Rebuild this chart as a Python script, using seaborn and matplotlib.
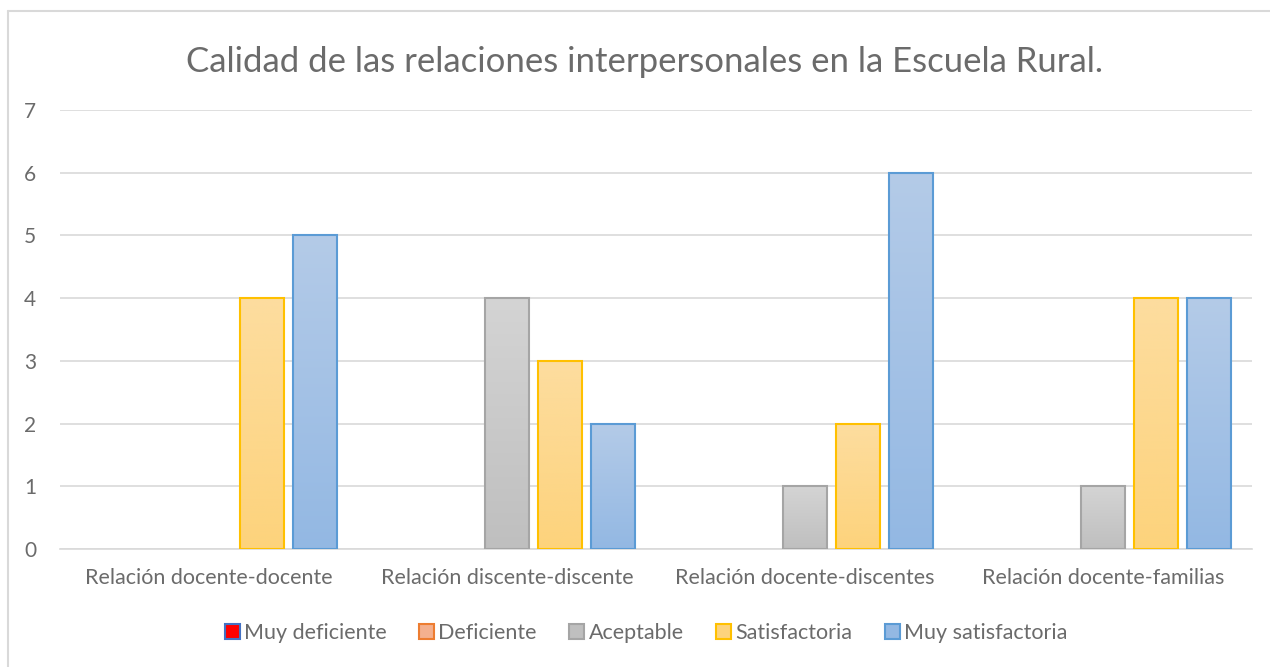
import numpy as np
import pandas as pd
import matplotlib
matplotlib.use("Agg")
import matplotlib.pyplot as plt
from matplotlib.patches import Patch
from matplotlib.lines import Line2D
from matplotlib.colors import LinearSegmentedColormap
import seaborn as sns

# ---- data ----
categorias = ["Relación docente-docente", "Relación discente-discente",
              "Relación docente-discentes", "Relación docente-familias"]
niveles = ["Muy deficiente", "Deficiente", "Aceptable", "Satisfactoria", "Muy satisfactoria"]
muy_deficiente = [0, 0, 0, 0]
deficiente = [0, 0, 0, 0]
aceptable = [0, 4, 1, 1]
satisfactoria = [4, 3, 2, 4]
muy_satisfactoria = [5, 2, 6, 4]
y_ticks = [0, 1, 2, 3, 4, 5, 6, 7]

series = [muy_deficiente, deficiente, aceptable, satisfactoria, muy_satisfactoria]
df = pd.DataFrame({
    "categoria": [c for s in series for c in categorias],
    "nivel": [n for n, s in zip(niveles, series) for _ in s],
    "valor": [v for s in series for v in s],
})

# colours (top of gradient, bottom of gradient, edge)
estilos = {
    "Muy deficiente": ("#FF0000", "#FF0000", "#4472C4"),
    "Deficiente": ("#F8C3A8", "#F4B08E", "#ED7D31"),
    "Aceptable": ("#D4D4D4", "#BFBFBF", "#A5A5A5"),
    "Satisfactoria": ("#FDDD9F", "#FDD37C", "#FFC000"),
    "Muy satisfactoria": ("#B4CBE8", "#93B8E3", "#5B9BD5"),
}
gris = "#6B6B6B"

sns.set_theme(style="white")
plt.rcParams["font.family"] = ["Lato", "DejaVu Sans"]

fig = plt.figure(figsize=(12.7, 6.67), dpi=100)
ax = fig.add_axes([60 / 1270, 1 - 549 / 667, (1252 - 60) / 1270, (549 - 110) / 667])

sns.barplot(data=df, x="categoria", y="valor", hue="nivel", order=categorias,
            hue_order=niveles, palette=[estilos[n][1] for n in niveles],
            width=0.89, gap=0.17, errorbar=None, legend=False, ax=ax)

# gradient fill + edge colour per series
for cont, nivel in zip(ax.containers, niveles):
    top, bot, edge = estilos[nivel]
    cmap = LinearSegmentedColormap.from_list(nivel, [bot, top])
    for bar in cont:
        if bar.get_height() == 0:
            bar.set_visible(False)
            continue
        x0, y0 = bar.get_x(), bar.get_y()
        w, h = bar.get_width(), bar.get_height()
        grad = np.linspace(0, 1, 256).reshape(-1, 1)
        img = ax.imshow(grad, cmap=cmap, origin="lower", aspect="auto",
                        extent=[x0, x0 + w, y0, y0 + h], zorder=2)
        img.set_clip_path(bar)
        bar.set_facecolor("none")
        bar.set_edgecolor(edge)
        bar.set_linewidth(1.5)
        bar.set_zorder(3)

ax.set_xlim(-0.5, len(categorias) - 0.5)
ax.set_ylim(0, 7)
ax.set_yticks(y_ticks)
ax.yaxis.grid(True, color="#D9D9D9", linewidth=1.2, zorder=0)
ax.set_axisbelow(True)
for side in ["top", "right", "left"]:
    ax.spines[side].set_visible(False)
ax.spines["bottom"].set_color("#D9D9D9")
ax.spines["bottom"].set_linewidth(1.2)
ax.set_xlabel("")
ax.set_ylabel("")
ax.tick_params(axis="x", length=0, pad=14, labelsize=15.5, labelcolor=gris)
ax.tick_params(axis="y", length=0, pad=17, labelsize=15, labelcolor=gris)

fig.text(644 / 1270, 1 - 62 / 667, "Calidad de las relaciones interpersonales en la Escuela Rural.",
         ha="center", va="center", fontsize=25, color=gris)

handles = [Patch(facecolor=estilos[n][1], edgecolor=estilos[n][2], linewidth=1.5) for n in niveles]
leg = fig.legend(handles, niveles, loc="center", bbox_to_anchor=(646 / 1270, 1 - 633 / 667),
                 ncol=5, frameon=False, fontsize=15.5, handlelength=0.7, handleheight=0.7,
                 handletextpad=0.2, columnspacing=1.5)
for t in leg.get_texts():
    t.set_color(gris)

# chart border (left and top edges visible)
fig.add_artist(Line2D([8 / 1270, 8 / 1270], [0, 1 - 11 / 667], transform=fig.transFigure,
                      color="#D9D9D9", linewidth=1.5))
fig.add_artist(Line2D([8 / 1270, 1], [1 - 11 / 667, 1 - 11 / 667], transform=fig.transFigure,
                      color="#D9D9D9", linewidth=1.5))

fig.savefig("out.png", dpi=100, facecolor="white")
